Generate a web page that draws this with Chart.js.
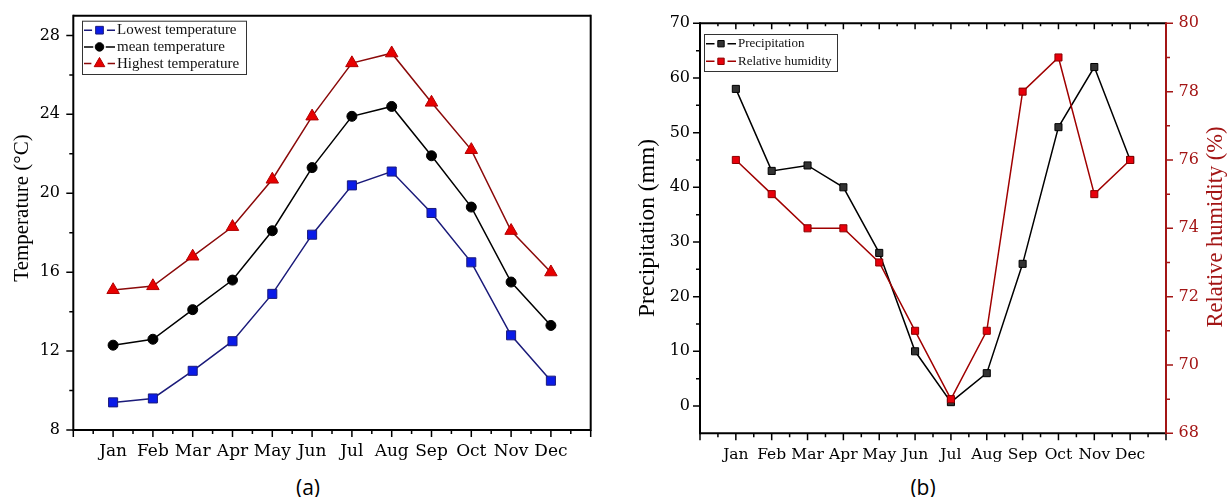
<!DOCTYPE html>
<html>
<head>
<meta charset="utf-8">
<script src="https://cdn.jsdelivr.net/npm/chart.js@4.4.0/dist/chart.umd.min.js"></script>
<style>
  body { margin: 0; background: #fff; width: 1231px; height: 497px; overflow: hidden; position: relative; }
  .box { position: absolute; top: 0; height: 470px; }
  #boxA { left: 0; width: 615px; }
  #boxB { left: 615px; width: 616px; }
  .cap { position: absolute; top: 475px; line-height: 24px; font-family: 'Open Sans', sans-serif; font-size: 21px; color: #000; transform: translateX(-50%); }
</style>
</head>
<body>
<div class="box" id="boxA"><canvas id="tempChart"></canvas></div>
<div class="box" id="boxB"><canvas id="rainChart"></canvas></div>
<div class="cap" style="left:308px">(a)</div>
<div class="cap" style="left:923px">(b)</div>
<script>
var months = ['Jan', 'Feb', 'Mar', 'Apr', 'May', 'Jun', 'Jul', 'Aug', 'Sep', 'Oct', 'Nov', 'Dec'];

// (a) temperature, °C
var lowestTemp  = [9.4, 9.6, 11.0, 12.5, 14.9, 17.9, 20.4, 21.1, 19.0, 16.5, 12.8, 10.5];
var meanTemp    = [12.3, 12.6, 14.1, 15.6, 18.1, 21.3, 23.9, 24.4, 21.9, 19.3, 15.5, 13.3];
var highestTemp = [15.1, 15.3, 16.8, 18.3, 20.7, 23.9, 26.6, 27.1, 24.6, 22.2, 18.1, 16.0];

// (b) precipitation (mm) and relative humidity (%)
var precipitation = [58, 43, 44, 40, 28, 10, 0.7, 6, 26, 51, 62, 45];
var humidity      = [76, 75, 74, 74, 73, 71, 69, 71, 78, 79, 75, 76];

var serif = "'Liberation Serif', 'Times New Roman', serif";
var tickFont = "'DejaVu Serif', serif";
var darkRed = '#a31515';

function points(arr) {
    return arr.map(function (v, i) { return { x: i + 1, y: v }; });
}
function range(from, to, step) {
    var out = [];
    for (var v = from; v <= to + 1e-9; v += step) out.push(Math.round(v * 100) / 100);
    return out;
}
// fixed scale sizes so the plot areas land where the figure has them
function fixWidth(w) {
    return function (s) { s.width = w; s.paddingTop = 0; s.paddingBottom = 0; };
}
function fixHeight(h) {
    return function (s) { s.height = h; s.paddingLeft = 0; s.paddingRight = 0; };
}

// frame lines + major/minor tick marks, placed with the chart's own scales
var axisDecor = {
    id: 'axisDecor',
    beforeDatasetsDraw: function (chart, args, opts) {
        var ctx = chart.ctx, a = chart.chartArea;
        ctx.save();
        (opts.ticks || []).forEach(function (t) {
            var scale = chart.scales[t.scale];
            ctx.strokeStyle = t.color || '#000';
            ctx.lineWidth = 1.5;
            ctx.beginPath();
            t.values.forEach(function (v) {
                var p = scale.getPixelForValue(v);
                if (t.side === 'bottom') { ctx.moveTo(p, a.bottom); ctx.lineTo(p, a.bottom + t.len); }
                if (t.side === 'top') { ctx.moveTo(p, a.top); ctx.lineTo(p, a.top + t.len); }
                if (t.side === 'left') { ctx.moveTo(a.left, p); ctx.lineTo(a.left - t.len, p); }
                if (t.side === 'right') { ctx.moveTo(a.right, p); ctx.lineTo(a.right + t.len, p); }
            });
            ctx.stroke();
        });
        (opts.edges || []).forEach(function (e) {
            ctx.strokeStyle = e.color || '#000';
            ctx.lineWidth = 2;
            ctx.beginPath();
            if (e.side === 'left') { ctx.moveTo(a.left, a.top - 1); ctx.lineTo(a.left, a.bottom + 1); }
            if (e.side === 'right') { ctx.moveTo(a.right, a.top - 1); ctx.lineTo(a.right, a.bottom + 1); }
            if (e.side === 'top') { ctx.moveTo(a.left, a.top); ctx.lineTo(a.right, a.top); }
            if (e.side === 'bottom') { ctx.moveTo(a.left, a.bottom); ctx.lineTo(a.right, a.bottom); }
            ctx.stroke();
        });
        // vertical axis titles, all reading bottom to top
        (opts.titles || []).forEach(function (t) {
            ctx.save();
            ctx.translate(t.x, t.y);
            ctx.rotate(-Math.PI / 2);
            ctx.font = t.font;
            ctx.fillStyle = t.color || '#000';
            ctx.textAlign = 'center';
            ctx.textBaseline = 'middle';
            ctx.fillText(t.text, 0, 0);
            ctx.restore();
        });
        ctx.restore();
    }
};

// Origin-style boxed legend: line - marker - line, then label
var boxLegend = {
    id: 'boxLegend',
    afterDatasetsDraw: function (chart, args, o) {
        var ctx = chart.ctx;
        ctx.save();
        ctx.fillStyle = '#fff';
        ctx.fillRect(o.x, o.y, o.w, o.h);
        ctx.strokeStyle = '#333';
        ctx.lineWidth = 1;
        ctx.strokeRect(o.x + 0.5, o.y + 0.5, o.w, o.h);
        ctx.font = o.font;
        ctx.textBaseline = 'middle';
        chart.data.datasets.forEach(function (ds, i) {
            var y = o.y + o.first + i * o.step;
            var x0 = o.x + 2, mid = x0 + o.lineLen / 2, x1 = x0 + o.lineLen;
            var r = ds.pointRadius * o.scale;
            ctx.strokeStyle = ds.borderColor;
            ctx.lineWidth = ds.borderWidth;
            ctx.beginPath();
            ctx.moveTo(x0, y); ctx.lineTo(mid - r - 2, y);
            ctx.moveTo(mid + r + 2, y); ctx.lineTo(x1, y);
            ctx.stroke();
            ctx.fillStyle = ds.pointBackgroundColor;
            ctx.strokeStyle = ds.pointBorderColor;
            ctx.lineWidth = 1;
            Chart.helpers.drawPoint(ctx, { pointStyle: ds.pointStyle, radius: r, borderWidth: 1, rotation: 0 }, mid, y);
            ctx.fillStyle = '#111';
            ctx.fillText(ds.label, x1 + 2, y);
        });
        ctx.restore();
    }
};

new Chart(document.getElementById('tempChart'), {
    type: 'line',
    data: {
        datasets: [{
            label: 'Lowest temperature',
            data: points(lowestTemp),
            borderColor: '#1b1b7a',
            borderWidth: 1.5,
            pointStyle: 'rect',
            pointRadius: 6.4,
            pointBackgroundColor: '#0a1be8',
            pointBorderColor: '#1b1b7a',
            pointBorderWidth: 1
        }, {
            label: 'mean temperature',
            data: points(meanTemp),
            borderColor: '#000',
            borderWidth: 1.5,
            pointStyle: 'circle',
            pointRadius: 5,
            pointBackgroundColor: '#000',
            pointBorderColor: '#000',
            pointBorderWidth: 1
        }, {
            label: 'Highest temperature',
            data: points(highestTemp),
            borderColor: '#8b0a0a',
            borderWidth: 1.5,
            pointStyle: 'triangle',
            pointRadius: 7.2,
            pointBackgroundColor: '#e80000',
            pointBorderColor: '#b00000',
            pointBorderWidth: 1
        }]
    },
    options: {
        responsive: true,
        maintainAspectRatio: false,
        animation: false,
        layout: { padding: { top: 15.7, right: 24.3, left: 0, bottom: 0 } },
        elements: { line: { tension: 0 } },
        plugins: {
            legend: { display: false },
            tooltip: { enabled: false },
            axisDecor: {
                edges: [{ side: 'left' }, { side: 'right' }, { side: 'top' }, { side: 'bottom' }],
                ticks: [
                    { scale: 'x', side: 'bottom', len: 7, values: range(0, 13, 1) },
                    { scale: 'x', side: 'bottom', len: 4, values: range(0.5, 12.5, 1) },
                    { scale: 'y', side: 'left', len: 7, values: range(8, 28, 4) },
                    { scale: 'y', side: 'left', len: 4, values: range(10, 26, 4) }
                ],
                titles: [
                    { text: 'Temperature (°C)', x: 22.5, y: 208, font: '21px ' + serif }
                ]
            },
            boxLegend: { x: 82, y: 20.7, w: 164, h: 53.3, first: 9.5, step: 16.7, lineLen: 31, scale: 0.85, font: '15px ' + serif }
        },
        scales: {
            x: {
                type: 'linear', min: 0, max: 13,
                afterFit: fixHeight(40),
                grid: { display: false, drawTicks: false },
                border: { display: false },
                ticks: {
                    stepSize: 1, autoSkip: false, maxRotation: 0, padding: 11.5, color: '#000',
                    font: { family: tickFont, size: 17 },
                    callback: function (v) { return months[v - 1] || ''; }
                }
            },
            y: {
                min: 8, max: 29,
                afterFit: fixWidth(73.3),
                grid: { display: false, drawTicks: false },
                border: { display: false },
                ticks: {
                    stepSize: 4, includeBounds: false, padding: 13.3, color: '#000',
                    font: { family: tickFont, size: 16 },
                    callback: function (v) { return v % 4 === 0 ? v : ''; }
                }
            }
        }
    },
    plugins: [axisDecor, boxLegend]
});

new Chart(document.getElementById('rainChart'), {
    type: 'line',
    data: {
        datasets: [{
            label: 'Precipitation',
            data: points(precipitation),
            yAxisID: 'y',
            order: 1,
            borderColor: '#000',
            borderWidth: 1.5,
            pointStyle: 'rect',
            pointRadius: 5,
            pointBackgroundColor: '#333',
            pointBorderColor: '#000',
            pointBorderWidth: 1
        }, {
            label: 'Relative humidity',
            data: points(humidity),
            yAxisID: 'y1',
            order: 0,
            borderColor: '#a00000',
            borderWidth: 1.5,
            pointStyle: 'rect',
            pointRadius: 5,
            pointBackgroundColor: '#e8000b',
            pointBorderColor: '#8b0000',
            pointBorderWidth: 1
        }]
    },
    options: {
        responsive: true,
        maintainAspectRatio: false,
        animation: false,
        layout: { padding: { top: 23.3, right: 0, left: 0, bottom: 0 } },
        elements: { line: { tension: 0 } },
        plugins: {
            legend: { display: false },
            tooltip: { enabled: false },
            axisDecor: {
                edges: [{ side: 'top' }, { side: 'bottom' }, { side: 'left' }, { side: 'right', color: darkRed }],
                ticks: [
                    { scale: 'x', side: 'bottom', len: 7, values: range(0, 13, 1) },
                    { scale: 'x', side: 'bottom', len: 4, values: range(0.5, 12.5, 1) },
                    { scale: 'x', side: 'top', len: 6, values: range(1, 12, 1) },
                    { scale: 'x', side: 'top', len: 3, values: range(0.5, 12.5, 1) },
                    { scale: 'y', side: 'left', len: 7, values: range(0, 70, 10) },
                    { scale: 'y', side: 'left', len: 4, values: range(5, 65, 10) },
                    { scale: 'y1', side: 'right', len: 7, values: range(68, 80, 2), color: darkRed },
                    { scale: 'y1', side: 'right', len: 4, values: range(69, 79, 2), color: darkRed }
                ],
                titles: [
                    { text: 'Precipitation (mm)', x: 32.5, y: 228, font: '23.5px ' + serif },
                    { text: 'Relative humidity (%)', x: 601, y: 227, font: '22.5px ' + serif, color: darkRed }
                ]
            },
            boxLegend: { x: 89, y: 34, w: 133, h: 37, first: 9.7, step: 17.6, lineLen: 30, scale: 0.9, font: '13px ' + serif }
        },
        scales: {
            x: {
                type: 'linear', min: 0, max: 13,
                afterFit: fixHeight(36.7),
                grid: { display: false, drawTicks: false },
                border: { display: false },
                ticks: {
                    stepSize: 1, autoSkip: false, maxRotation: 0, padding: 12.4, color: '#000',
                    font: { family: tickFont, size: 15.5 },
                    callback: function (v) { return months[v - 1] || ''; }
                }
            },
            y: {
                position: 'left', min: -5, max: 70,
                afterFit: fixWidth(85),
                grid: { display: false, drawTicks: false },
                border: { display: false },
                ticks: {
                    stepSize: 10, includeBounds: false, padding: 10, color: '#000',
                    font: { family: tickFont, size: 16 }
                }
            },
            y1: {
                position: 'right', min: 68, max: 80,
                afterFit: fixWidth(65),
                grid: { display: false, drawTicks: false },
                border: { display: false },
                ticks: {
                    stepSize: 2, padding: 12.6, color: darkRed,
                    font: { family: tickFont, size: 16 }
                }
            }
        }
    },
    plugins: [axisDecor, boxLegend]
});
</script>
</body>
</html>
